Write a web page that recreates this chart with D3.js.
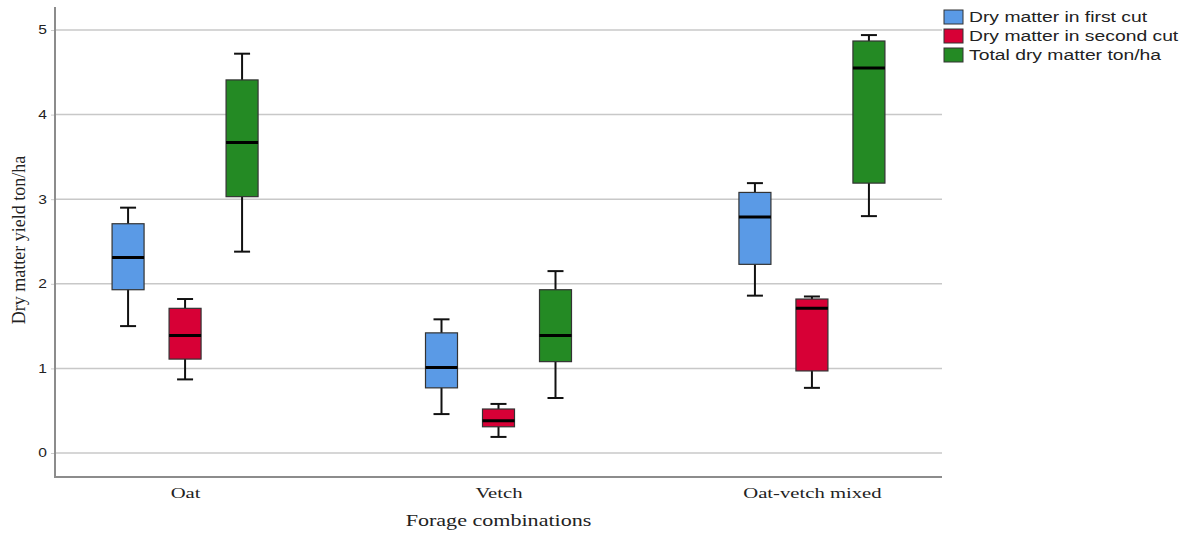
<!DOCTYPE html>
<html>
<head>
<meta charset="utf-8">
<script src="https://cdn.jsdelivr.net/npm/d3@7"></script>
<style>
  body { margin: 0; background: #fff; }
  .tick text { font-family: "Liberation Sans", Arial, sans-serif; font-size: 12px; fill: #222; }
</style>
</head>
<body>
<div id="chart"></div>
<script>
// categories and series
const groups = ["Oat", "Vetch", "Oat-vetch mixed"];
const seriesNames = ["Dry matter in first cut", "Dry matter in second cut", "Total dry matter ton/ha"];
const seriesColours = ["#5a9ae6", "#d70036", "#248a24"];
const yTicks = [0, 1, 2, 3, 4, 5];

// [whisker low, q1, median, q3, whisker high] per group
const firstCut = [
  [1.50, 1.93, 2.31, 2.71, 2.90],
  [0.46, 0.77, 1.01, 1.42, 1.58],
  [1.86, 2.23, 2.79, 3.08, 3.19]
];
const secondCut = [
  [0.87, 1.11, 1.39, 1.71, 1.82],
  [0.19, 0.31, 0.38, 0.52, 0.58],
  [0.77, 0.97, 1.71, 1.82, 1.85]
];
const totalDM = [
  [2.38, 3.03, 3.67, 4.41, 4.72],
  [0.65, 1.08, 1.39, 1.93, 2.15],
  [2.80, 3.19, 4.55, 4.87, 4.94]
];
const seriesValues = [firstCut, secondCut, totalDM];

const W = 1188, H = 536;
const m = { left: 55, right: 942, top: 7, bottom: 477 };
const stretch = 1.38; // the text in the original is drawn wide

const svg = d3.select("#chart").append("svg")
  .attr("width", W)
  .attr("height", H);

const x = d3.scalePoint()
  .domain(groups)
  .range([m.left, m.right])
  .padding(0.415);

const inner = d3.scaleBand()
  .domain(d3.range(seriesNames.length))
  .range([-73, 73])
  .paddingInner(0.4386)
  .paddingOuter(0);

const y = d3.scaleLinear()
  .domain([0, 5])
  .range([453, 30]);

// grid lines
svg.append("g")
  .selectAll("line")
  .data(yTicks)
  .join("line")
  .attr("x1", m.left)
  .attr("x2", m.right)
  .attr("y1", d => y(d))
  .attr("y2", d => y(d))
  .style("stroke", "#c8c8c8")
  .style("stroke-width", 1.5);

// y axis
const yAxis = d3.axisLeft(y).tickValues(yTicks).tickFormat(d3.format("d")).tickSize(4);
const gy = svg.append("g")
  .attr("transform", `translate(${m.left},0)`)
  .call(yAxis);
gy.select(".domain").remove();
gy.selectAll(".tick line").style("stroke", "#ccc");
gy.selectAll(".tick text")
  .attr("x", -8 / 1.3)
  .attr("transform", "scale(1.3,1)");

// x axis
const xAxis = d3.axisBottom(x).tickSize(0).tickPadding(10);
const gx = svg.append("g")
  .attr("transform", `translate(0,${m.bottom})`)
  .call(xAxis);
gx.select(".domain").remove();
gx.selectAll(".tick text")
  .attr("transform", `scale(${stretch},1)`)
  .style("font-family", "'Liberation Serif', 'Times New Roman', serif")
  .style("font-size", "15px")
  .style("fill", "#222");

// axis lines
svg.append("path")
  .attr("d", `M${m.left},${m.top}V${m.bottom}H${m.right}`)
  .style("fill", "none")
  .style("stroke", "#8c8c8c")
  .style("stroke-width", 2);

// boxes
const boxes = [];
seriesValues.forEach((vals, s) => {
  vals.forEach((v, g) => boxes.push({ s: s, g: groups[g], v: v }));
});

const bw = inner.bandwidth();
const capW = 16;

const box = svg.append("g")
  .selectAll("g.box")
  .data(boxes)
  .join("g")
  .attr("class", "box")
  .attr("transform", d => `translate(${x(d.g) + inner(d.s)},0)`);

box.append("line")
  .attr("x1", bw / 2).attr("x2", bw / 2)
  .attr("y1", d => y(d.v[0])).attr("y2", d => y(d.v[4]))
  .style("stroke", "#111").style("stroke-width", 2);

box.append("line")
  .attr("x1", bw / 2 - capW / 2).attr("x2", bw / 2 + capW / 2)
  .attr("y1", d => y(d.v[0])).attr("y2", d => y(d.v[0]))
  .style("stroke", "#111").style("stroke-width", 2);

box.append("line")
  .attr("x1", bw / 2 - capW / 2).attr("x2", bw / 2 + capW / 2)
  .attr("y1", d => y(d.v[4])).attr("y2", d => y(d.v[4]))
  .style("stroke", "#111").style("stroke-width", 2);

box.append("rect")
  .attr("x", 0)
  .attr("width", bw)
  .attr("y", d => y(d.v[3]))
  .attr("height", d => y(d.v[1]) - y(d.v[3]))
  .style("fill", d => seriesColours[d.s])
  .style("stroke", "#333")
  .style("stroke-width", 1.2);

box.append("line")
  .attr("x1", 0).attr("x2", bw)
  .attr("y1", d => y(d.v[2])).attr("y2", d => y(d.v[2]))
  .style("stroke", "#000").style("stroke-width", 3);

// axis titles
svg.append("text")
  .attr("transform", `translate(${(m.left + m.right) / 2},526) scale(${stretch},1)`)
  .style("text-anchor", "middle")
  .style("font-family", "'Liberation Serif', 'Times New Roman', serif")
  .style("font-size", "16px")
  .style("fill", "#222")
  .text("Forage combinations");

svg.append("text")
  .attr("transform", "translate(25,240) rotate(-90)")
  .style("text-anchor", "middle")
  .style("font-family", "'Liberation Serif', 'Times New Roman', serif")
  .style("font-size", "18px")
  .style("fill", "#222")
  .text("Dry matter yield ton/ha");

// legend
const legend = svg.append("g")
  .attr("transform", "translate(944,10)")
  .selectAll("g")
  .data(seriesNames)
  .join("g")
  .attr("transform", (d, i) => `translate(0,${i * 19})`);

legend.append("rect")
  .attr("width", 19)
  .attr("height", 14)
  .style("fill", (d, i) => seriesColours[i])
  .style("stroke", "#333")
  .style("stroke-width", 1);

legend.append("text")
  .attr("transform", `translate(25,12) scale(${stretch},1)`)
  .style("font-family", "'Liberation Sans', Arial, sans-serif")
  .style("font-size", "14px")
  .style("fill", "#222")
  .text(d => d);
</script>
</body>
</html>
